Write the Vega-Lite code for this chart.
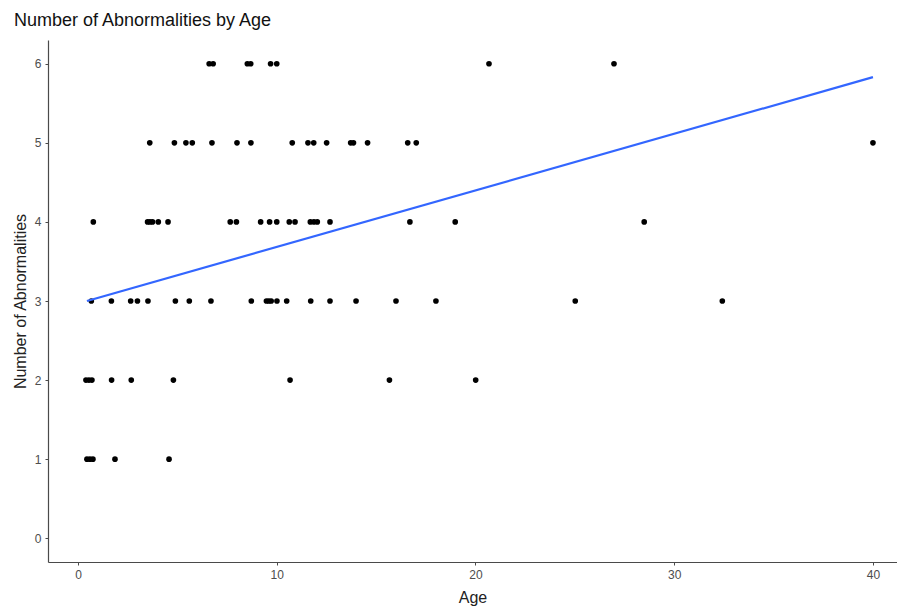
{
  "$schema": "https://vega.github.io/schema/vega-lite/v6.json",
  "width": 849,
  "height": 522,
  "autosize": {"type": "none"},
  "padding": {"left": 48, "top": 40, "right": 0, "bottom": 49},
  "background": "white",
  "config": {
    "view": {"stroke": null},
    "font": "Liberation Sans",
    "axis": {"grid": false, "domainColor": "#4a4a4a", "domainWidth": 1.2, "tickColor": "#4a4a4a", "tickSize": 3, "labelColor": "#4D4D4D", "labelFontSize": 12, "titleColor": "#222222", "titleFontSize": 16, "titleFontWeight": "normal", "labelFont": "Liberation Sans", "titleFont": "Liberation Sans"}
  },
  "title": {"text": "Number of Abnormalities by Age", "anchor": "start", "frame": "group", "dx": -34, "offset": 10, "fontSize": 18, "fontWeight": "normal", "color": "#111111", "font": "Liberation Sans"},
  "datasets": {
    "points": [
      {"age": 6.6, "n": 6}, {"age": 6.8, "n": 6}, {"age": 8.52, "n": 6}, {"age": 8.69, "n": 6}, {"age": 9.69, "n": 6}, {"age": 10.0, "n": 6}, {"age": 20.68, "n": 6}, {"age": 26.97, "n": 6},
      {"age": 3.61, "n": 5}, {"age": 4.85, "n": 5}, {"age": 5.43, "n": 5}, {"age": 5.75, "n": 5}, {"age": 6.74, "n": 5}, {"age": 8.0, "n": 5}, {"age": 8.7, "n": 5}, {"age": 10.78, "n": 5}, {"age": 11.57, "n": 5}, {"age": 11.86, "n": 5}, {"age": 12.51, "n": 5}, {"age": 13.72, "n": 5}, {"age": 13.86, "n": 5}, {"age": 14.57, "n": 5}, {"age": 16.59, "n": 5}, {"age": 17.02, "n": 5}, {"age": 40.0, "n": 5},
      {"age": 0.77, "n": 4}, {"age": 3.5, "n": 4}, {"age": 3.62, "n": 4}, {"age": 3.75, "n": 4}, {"age": 4.04, "n": 4}, {"age": 4.53, "n": 4}, {"age": 7.66, "n": 4}, {"age": 7.97, "n": 4}, {"age": 9.19, "n": 4}, {"age": 9.64, "n": 4}, {"age": 10.0, "n": 4}, {"age": 10.63, "n": 4}, {"age": 10.92, "n": 4}, {"age": 11.69, "n": 4}, {"age": 11.87, "n": 4}, {"age": 12.04, "n": 4}, {"age": 12.68, "n": 4}, {"age": 16.7, "n": 4}, {"age": 18.98, "n": 4}, {"age": 28.49, "n": 4},
      {"age": 0.67, "n": 3}, {"age": 1.68, "n": 3}, {"age": 2.65, "n": 3}, {"age": 2.99, "n": 3}, {"age": 3.52, "n": 3}, {"age": 4.9, "n": 3}, {"age": 5.6, "n": 3}, {"age": 6.69, "n": 3}, {"age": 8.72, "n": 3}, {"age": 9.48, "n": 3}, {"age": 9.6, "n": 3}, {"age": 9.72, "n": 3}, {"age": 10.01, "n": 3}, {"age": 10.5, "n": 3}, {"age": 11.71, "n": 3}, {"age": 12.68, "n": 3}, {"age": 13.99, "n": 3}, {"age": 16.0, "n": 3}, {"age": 18.01, "n": 3}, {"age": 25.02, "n": 3}, {"age": 32.42, "n": 3},
      {"age": 0.4, "n": 2}, {"age": 0.55, "n": 2}, {"age": 0.7, "n": 2}, {"age": 1.69, "n": 2}, {"age": 2.68, "n": 2}, {"age": 4.8, "n": 2}, {"age": 10.67, "n": 2}, {"age": 15.67, "n": 2}, {"age": 20.01, "n": 2},
      {"age": 0.45, "n": 1}, {"age": 0.6, "n": 1}, {"age": 0.75, "n": 1}, {"age": 1.86, "n": 1}, {"age": 4.58, "n": 1}
    ],
    "fit": [
      {"age": 0.45, "n": 3.0},
      {"age": 40.0, "n": 5.83}
    ]
  },
  "layer": [
    {
      "data": {"name": "points"},
      "mark": {"type": "point", "filled": true, "color": "black", "opacity": 1, "size": 32},
      "encoding": {
        "x": {"field": "age", "type": "quantitative", "title": "Age", "scale": {"domain": [-1.51, 41.21], "nice": false, "zero": false}, "axis": {"values": [0, 10, 20, 30, 40], "format": "d", "titlePadding": 9, "labelPadding": 4}},
        "y": {"field": "n", "type": "quantitative", "title": "Number of Abnormalities", "scale": {"domain": [-0.3, 6.3], "nice": false, "zero": false}, "axis": {"values": [0, 1, 2, 3, 4, 5, 6], "format": "d", "titlePadding": 6, "labelPadding": 4}}
      }
    },
    {
      "data": {"name": "fit"},
      "mark": {"type": "line", "color": "#3366FF", "strokeWidth": 2.2},
      "encoding": {
        "x": {"field": "age", "type": "quantitative"},
        "y": {"field": "n", "type": "quantitative"}
      }
    }
  ]
}
